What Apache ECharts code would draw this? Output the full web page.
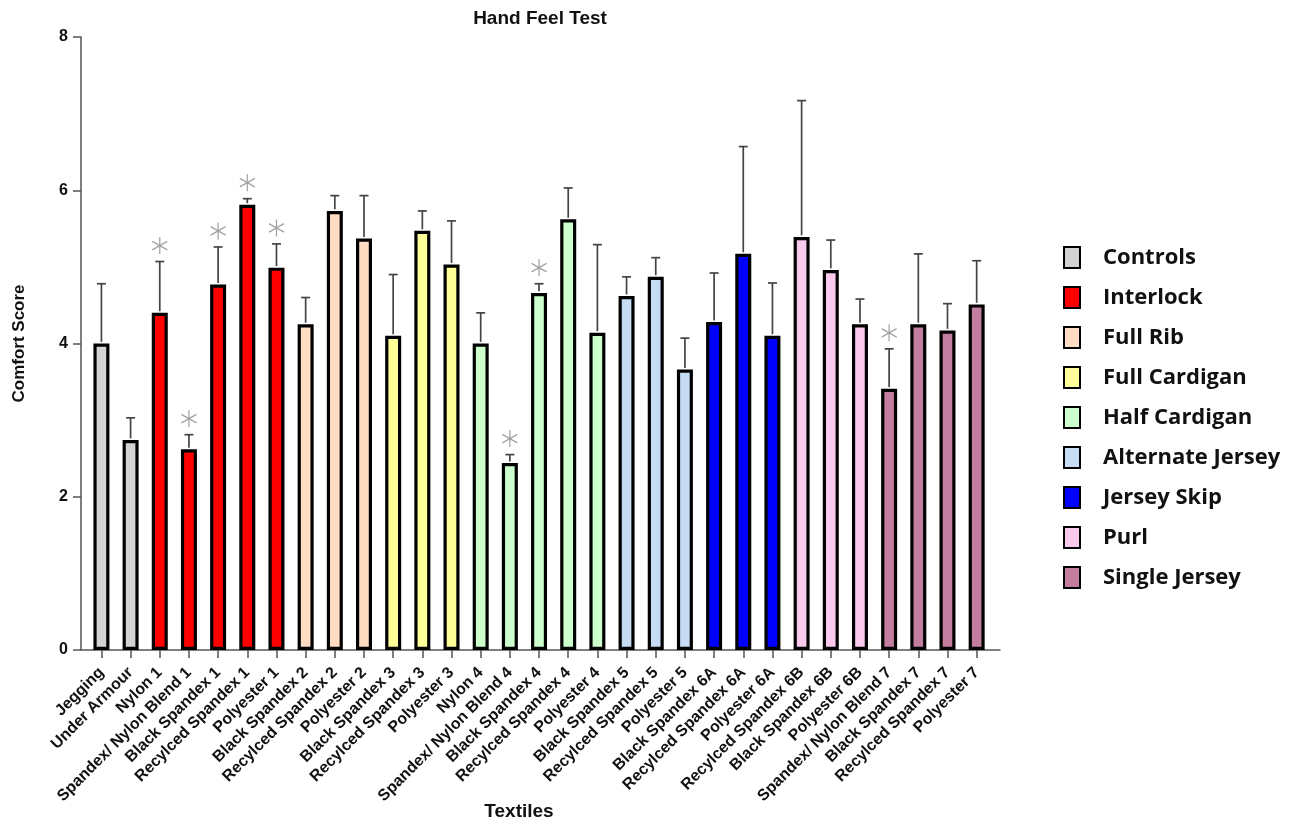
<!DOCTYPE html>
<html>
<head>
<meta charset="utf-8">
<script src="https://cdn.jsdelivr.net/npm/echarts@6/dist/echarts.min.js"></script>
<style>html,body{margin:0;padding:0;background:#fff}#c{width:1300px;height:824px}</style>
</head>
<body>
<div id="c"></div>
<script>
const categories = ["Jegging","Under Armour","Nylon 1","Spandex/ Nylon Blend 1","Black Spandex 1","Recylced Spandex 1","Polyester 1","Black Spandex 2","Recylced Spandex 2","Polyester 2","Black Spandex 3","Recylced Spandex 3","Polyester 3","Nylon 4","Spandex/ Nylon Blend 4","Black Spandex 4","Recylced Spandex 4","Polyester 4","Black Spandex 5","Recylced Spandex 5","Polyester 5","Black Spandex 6A","Recylced Spandex 6A","Polyester 6A","Recylced Spandex 6B","Black Spandex 6B","Polyester 6B","Spandex/ Nylon Blend 7","Black Spandex 7","Recylced Spandex 7","Polyester 7"];
const means = [4.00,2.74,4.40,2.62,4.77,5.81,4.99,4.25,5.73,5.37,4.10,5.47,5.03,4.00,2.44,4.66,5.62,4.14,4.62,4.87,3.66,4.28,5.17,4.10,5.39,4.96,4.25,3.41,4.25,4.17,4.51];
const upper = [4.78,3.03,5.07,2.81,5.26,5.89,5.30,4.60,5.93,5.93,4.90,5.73,5.60,4.40,2.55,4.78,6.03,5.29,4.87,5.12,4.07,4.92,6.57,4.79,7.17,5.35,4.58,3.93,5.17,4.52,5.08];
const groupOf = [0,0,1,1,1,1,1,2,2,2,3,3,3,4,4,4,4,4,5,5,5,6,6,6,7,7,7,8,8,8,8];
const groupNames = ["Controls","Interlock","Full Rib","Full Cardigan","Half Cardigan","Alternate Jersey","Jersey Skip","Purl","Single Jersey"];
const groupColors = ["#d3d3d3","#ff0000","#ffdcc2","#ffff99","#ccffcc","#c6dcf5","#0000ff","#f9c9ee","#c27d9f"];
const significant = [2,3,4,5,6,14,15,27];
const yTicks = [0,2,4,6,8];

const chart = echarts.init(document.getElementById('c'));
const idx = categories.map((_, i) => i);

const barSeries = groupNames.map((name, g) => ({
  type: 'bar',
  name: name,
  barWidth: 16,
  barGap: '-100%',
  data: idx.filter(i => groupOf[i] === g).map(i => [i, means[i]]),
  itemStyle: { color: groupColors[g], borderColor: '#000', borderWidth: 3.2 },
  z: 2
}));

const errSeries = {
  type: 'custom',
  data: idx.map(i => [i, means[i], upper[i]]),
  encode: { x: 0, y: [1, 2] },
  z: 3,
  renderItem: function (params, api) {
    const p0 = api.coord([api.value(0), api.value(1)]);
    const p1 = api.coord([api.value(0), api.value(2)]);
    const st = { stroke: '#444', lineWidth: 1.7 };
    return {
      type: 'group',
      children: [
        { type: 'line', shape: { x1: p0[0], y1: p0[1] - 1.6, x2: p1[0], y2: p1[1] }, style: st },
        { type: 'line', shape: { x1: p1[0] - 4.5, y1: p1[1], x2: p1[0] + 4.5, y2: p1[1] }, style: st }
      ]
    };
  }
};

const starSeries = {
  type: 'scatter',
  data: significant.map(i => [i, upper[i]]),
  symbol: 'path://M10,0L10,20M1.3,5L18.7,15M1.3,15L18.7,5',
  symbolSize: [15, 17],
  symbolOffset: [0, -16],
  itemStyle: { color: 'rgba(0,0,0,0)', borderColor: '#8a8a8a', borderWidth: 1.3 },
  z: 4,
  silent: true
};

chart.setOption({
  backgroundColor: '#fff',
  animation: false,
  title: [{
    text: 'Hand Feel Test',
    left: 535,
    textAlign: 'center',
    top: 4,
    textStyle: { fontFamily: 'Liberation Sans', fontWeight: 'bold', fontSize: 19, color: '#111' }
  }, {
    text: 'Textiles',
    left: 514,
    textAlign: 'center',
    top: 797,
    textStyle: { fontFamily: 'Liberation Sans', fontWeight: 'bold', fontSize: 19, color: '#111' }
  }],
  legend: {
    data: groupNames,
    orient: 'vertical',
    left: 1058,
    top: 241,
    icon: 'rect',
    itemWidth: 16,
    itemHeight: 21,
    itemGap: 17,
    selectedMode: false,
    itemStyle: { borderColor: '#000', borderWidth: 2 },
    textStyle: { fontFamily: 'Open Sans', fontWeight: 'bold', fontSize: 22, color: '#111', padding: [0, 0, 0, 18] }
  },
  grid: { left: 81, right: 300, top: 37, bottom: 174, containLabel: false, outerBoundsMode: 'none' },
  xAxis: {
    type: 'value',
    min: -0.7,
    max: 30.8,
    axisLine: { show: true, onZero: false, lineStyle: { color: '#555', width: 1.5 } },
    axisTick: { show: true, customValues: idx, length: 8, lineStyle: { color: '#555', width: 1.5 } },
    axisLabel: {
      customValues: idx,
      rotate: 45,
      margin: 20,
      formatter: v => categories[Math.round(v)],
      fontFamily: 'Liberation Sans', fontWeight: 'bold', fontSize: 16, color: '#111'
    },
    splitLine: { show: false }
  },
  yAxis: {
    type: 'value',
    min: 0,
    max: 8,
    interval: 2,
    name: 'Comfort Score',
    nameLocation: 'middle',
    nameGap: 53,
    nameRotate: 90,
    nameTextStyle: { fontFamily: 'Liberation Sans', fontWeight: 'bold', fontSize: 17, color: '#111' },
    axisLine: { show: true, onZero: false, lineStyle: { color: '#555', width: 1.5 } },
    axisTick: { show: true, length: 8, lineStyle: { color: '#555', width: 1.5 } },
    axisLabel: { fontFamily: 'Liberation Sans', fontWeight: 'bold', fontSize: 16, color: '#111', margin: 13,
      formatter: v => (yTicks.indexOf(v) >= 0 ? String(v) : '') },
    splitLine: { show: false }
  },
  series: barSeries.concat([errSeries, starSeries])
});
</script>
</body>
</html>
